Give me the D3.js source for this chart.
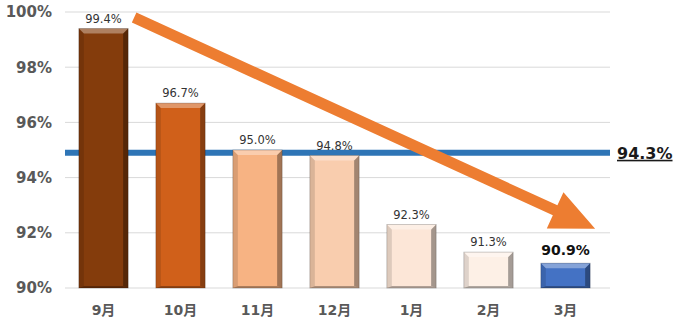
<!DOCTYPE html>
<html><head><meta charset="utf-8">
<script src="https://cdn.jsdelivr.net/npm/d3@7"></script>
<style>body{margin:0;background:#fff}svg{display:block}</style>
</head><body>
<script>
const categories = ["9月","10月","11月","12月","1月","2月","3月"];
const values = [99.4, 96.7, 95.0, 94.8, 92.3, 91.3, 90.9];
const barColors = ["#843c0c","#d0601a","#f7b383","#f9cdae","#fce6d7","#fdf0e6","#4472c4"];
const yTicks = [90, 92, 94, 96, 98, 100];
const avgLineValue = 94.9;
const avgLabel = "94.3%";
const arrowStart = {cat: "9月", value: 99.8};
const arrowEnd = {cat: "3月", value: 92.15};

const W = 681, H = 333;
const svg = d3.select("body").append("svg").attr("width", W).attr("height", H);
const x = d3.scaleBand().domain(categories).range([65, 604]).paddingInner(0.36).paddingOuter(0.18);
const y = d3.scaleLinear().domain([90, 100]).range([288, 12]);
const gridRight = 610;

svg.append("g").selectAll("line").data(yTicks).join("line")
  .attr("x1", 65).attr("x2", gridRight)
  .attr("y1", d => y(d)).attr("y2", d => y(d))
  .attr("stroke", "#d9d9d9").attr("stroke-width", 1);

const yAxis = d3.axisLeft(y).tickValues(yTicks).tickFormat(d => d + "%").tickSize(0).tickPadding(0);
const yg = svg.append("g").attr("transform", "translate(52,0)").call(yAxis);
yg.select(".domain").remove();
yg.selectAll("text").attr("font-family", "DejaVu Sans, sans-serif").attr("font-weight", "bold")
  .attr("font-size", 15).attr("fill", "#595959");

const xAxis = d3.axisBottom(x).tickSize(0).tickPadding(0);
const xg = svg.append("g").attr("transform", "translate(0,305)").call(xAxis);
xg.select(".domain").remove();
xg.selectAll("text").attr("font-family", "DejaVu Sans, Noto Sans CJK JP, sans-serif").attr("font-weight", "bold")
  .attr("font-size", 14).attr("fill", "#595959");

svg.append("line").attr("x1", 65).attr("x2", gridRight)
  .attr("y1", y(avgLineValue)).attr("y2", y(avgLineValue))
  .attr("stroke", "#2e75b6").attr("stroke-width", 6);
svg.append("text").attr("x", 617).attr("y", y(avgLineValue) + 6)
  .attr("font-family", "DejaVu Sans, sans-serif").attr("font-weight", "bold").attr("font-size", 16)
  .attr("fill", "#1a1a1a").attr("text-decoration", "underline").text(avgLabel);

const data = categories.map((c, i) => ({c, v: values[i], col: barColors[i], i}));
const bw = x.bandwidth();
const bars = svg.append("g").selectAll("g").data(data).join("g");
bars.append("rect").attr("x", d => x(d.c)).attr("y", d => y(d.v))
  .attr("width", bw).attr("height", d => y(90) - y(d.v)).attr("fill", d => d.col);
const bev = 5;
bars.append("path").attr("d", d => {
  const x0 = x(d.c), y0 = y(d.v), y1 = y(90);
  return `M${x0},${y0}L${x0+bev},${y0+bev}L${x0+bev},${y1-2}L${x0},${y1}Z`;
}).attr("fill", "#000").attr("opacity", 0.12);
bars.append("path").attr("d", d => {
  const x0 = x(d.c) + bw, y0 = y(d.v), y1 = y(90);
  return `M${x0},${y0}L${x0-bev},${y0+bev}L${x0-bev},${y1-2}L${x0},${y1}Z`;
}).attr("fill", "#000").attr("opacity", 0.35);
bars.append("path").attr("d", d => {
  const x0 = x(d.c), x1 = x0 + bw, y0 = y(d.v);
  return `M${x0},${y0}L${x1},${y0}L${x1-bev},${y0+bev}L${x0+bev},${y0+bev}Z`;
}).attr("fill", "#fff").attr("opacity", 0.35);
bars.append("path").attr("d", d => {
  const x0 = x(d.c), x1 = x0 + bw, y1 = y(90);
  return `M${x0},${y1}L${x1},${y1}L${x1-bev},${y1-2}L${x0+bev},${y1-2}Z`;
}).attr("fill", "#000").attr("opacity", 0.3);
bars.append("rect").attr("x", d => x(d.c)).attr("y", d => y(d.v))
  .attr("width", bw).attr("height", d => y(90) - y(d.v))
  .attr("fill", "none").attr("stroke", "#000").attr("stroke-opacity", 0.25).attr("stroke-width", 0.8);

bars.append("text").attr("x", d => x(d.c) + bw / 2)
  .attr("y", d => y(d.v) - (d.i === 6 ? 8 : 6))
  .attr("text-anchor", "middle")
  .attr("font-family", "DejaVu Sans, sans-serif")
  .attr("font-size", d => d.i === 6 ? 14 : 11.5)
  .attr("font-weight", d => d.i === 6 ? "bold" : "normal")
  .attr("fill", d => d.i === 6 ? "#111" : "#333")
  .text(d => d.v.toFixed(1) + "%");

const sx = x(arrowStart.cat) + bw + 6, sy = y(arrowStart.value);
const ex = x(arrowEnd.cat) + bw + 5, ey = y(arrowEnd.value);
const dx = ex - sx, dy = ey - sy, len = Math.hypot(dx, dy);
const ux = dx / len, uy = dy / len, px = -uy, py = ux;
const headLen = 44, headHalf = 20, shaftHalf = 5.5;
const bx = ex - ux * headLen, by = ey - uy * headLen;
const pts = [
  [sx + px * shaftHalf, sy + py * shaftHalf],
  [bx + px * shaftHalf, by + py * shaftHalf],
  [bx + px * headHalf, by + py * headHalf],
  [ex, ey],
  [bx - px * headHalf, by - py * headHalf],
  [bx - px * shaftHalf, by - py * shaftHalf],
  [sx - px * shaftHalf, sy - py * shaftHalf]
];
svg.append("path").attr("d", "M" + pts.map(p => p.join(",")).join("L") + "Z")
  .attr("fill", "#ed7d31");
</script>
</body></html>
